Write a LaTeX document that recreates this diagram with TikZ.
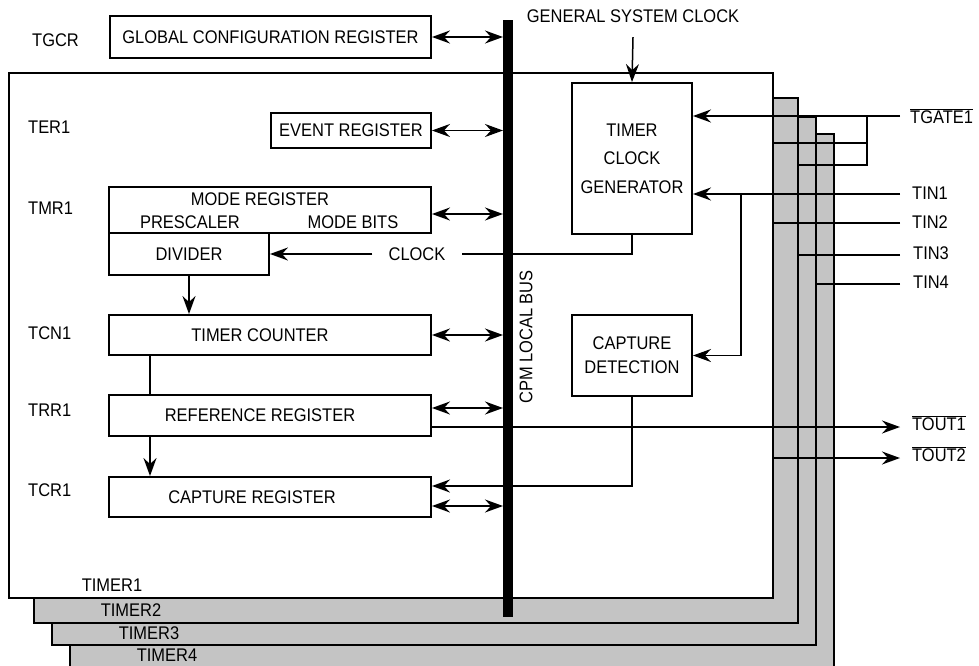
\documentclass[tikz,border=0pt]{standalone}
\usepackage{fontspec}
\setmainfont{Liberation Sans}[FakeStretch=0.9]
\usetikzlibrary{arrows.meta}
\begin{document}
\begin{tikzpicture}[x=1pt,y=-1pt,
  every node/.style={font=\fontsize{18.3}{21}\selectfont, inner sep=0pt},
  box/.style={draw, line width=1.9pt, fill=white},
  frame/.style={draw, line width=1.9pt, fill=black!23, anchor=north west, inner sep=0pt},
  conn/.style={line width=1.5pt},
  >={Stealth[length=18pt,width=13pt,inset=6pt]}]
\useasboundingbox (0,0) rectangle (979,666);
\clip (0,0) rectangle (979,666);
% timer frames
\node[frame, minimum width=764pt, minimum height=567pt] (t4) at (69,133) {};
\node[frame, minimum width=764pt, minimum height=528pt] (t3) at (51,116) {};
\node[frame, minimum width=764pt, minimum height=525pt] (t2) at (33,97) {};
\node[frame, fill=white, minimum width=764pt, minimum height=525pt] (t1) at (8,72) {};
\node (lt1) at (112,585) {TIMER1};
\node (lt2) at (131,610) {TIMER2};
\node (lt3) at (149,633) {TIMER3};
\node (lt4) at (167,655) {TIMER4};
% bus
\node[fill=black, minimum width=10pt, minimum height=597pt, anchor=north west] (bus) at (503,20) {};
\node[rotate=90] (busl) at (526,337) {CPM LOCAL BUS};
% registers
\node[box, minimum width=321pt, minimum height=42pt] (gcr) at (270.5,37) {GLOBAL CONFIGURATION REGISTER};
\node[anchor=west] (lgcr) at (32,40) {TGCR};
\node[box, minimum width=160pt, minimum height=35pt] (evt) at (351,130.5) {EVENT REGISTER};
\node[anchor=west] (lter) at (28,127) {TER1};
\node[box, minimum width=322pt, minimum height=46pt] (mode) at (270,210) {};
\node (modet) at (260,199) {MODE REGISTER};
\node (pre) at (190,222) {PRESCALER};
\node (mbits) at (353,222) {MODE BITS};
\node[anchor=west] (ltmr) at (28,208) {TMR1};
\node[box, minimum width=160pt, minimum height=42pt] (div) at (189,254) {DIVIDER};
\node[box, minimum width=322pt, minimum height=40pt] (tc) at (270,335) {\hspace*{-20pt}TIMER COUNTER};
\node[anchor=west] (ltcn) at (28,333) {TCN1};
\node[box, minimum width=322pt, minimum height=41pt] (ref) at (270,415.5) {\hspace*{-20pt}REFERENCE REGISTER};
\node[anchor=west] (ltrr) at (28,410) {TRR1};
\node[box, minimum width=322pt, minimum height=40pt] (cap) at (270,497) {\hspace*{-36pt}CAPTURE REGISTER};
\node[anchor=west] (ltcr) at (28,490) {TCR1};
% right blocks
\node (gsc) at (633,16) {GENERAL SYSTEM CLOCK};
\node[box, minimum width=120pt, minimum height=151pt, align=center, font=\fontsize{18.3}{28.5}\selectfont] (tcg) at (632,158.5) {TIMER\\CLOCK\\GENERATOR};
\node[box, minimum width=120pt, minimum height=81pt, align=center, font=\fontsize{18.3}{24}\selectfont] (cd) at (632,355.5) {CAPTURE\\DETECTION};
\node[inner xsep=16pt] (clk) at (417,254) {CLOCK};
% pins
\node[anchor=base west] (tgate) at (910,123.5) {$\overline{\mbox{TGATE1}}$};
\node[anchor=base west] (tin1) at (912,199.5) {TIN1};
\node[anchor=base west] (tin2) at (912,228.5) {TIN2};
\node[anchor=base west] (tin3) at (913,259.5) {TIN3};
\node[anchor=base west] (tin4) at (913,288.5) {TIN4};
\node[anchor=base west] (tout1) at (912,430.5) {$\overline{\mbox{TOUT1}}$};
\node[anchor=base west] (tout2) at (912,461.5) {$\overline{\mbox{TOUT2}}$};
\coordinate (pg) at (900,116);
\coordinate (p1) at (900,194);
\coordinate (p2) at (900,223);
\coordinate (p3) at (900,255);
\coordinate (p4) at (900,284);
\coordinate (po1) at (900,427);
\coordinate (po2) at (900,458);
% bus connections
\draw[conn,<->] (gcr.east) -- (bus.west |- gcr.east);
\draw[conn,<->] (evt.east) -- (bus.west |- evt.east);
\coordinate (me) at ([yshift=-4pt]mode.east);
\draw[conn,<->] (me) -- (bus.west |- me);
\draw[conn,<->] (tc.east) -- (bus.west |- tc.east);
\coordinate (re) at ([yshift=7.5pt]ref.east);
\draw[conn,<->] (re) -- (bus.west |- re);
\coordinate (ce1) at ([yshift=11pt]cap.east);
\coordinate (ce2) at ([yshift=-9pt]cap.east);
\draw[conn,<->] (ce2) -- (bus.west |- ce2);
\draw[conn,->] (cd.south) |- (ce1);
% internal flow
\draw[conn] (tcg.south) |- (clk.east);
\draw[conn,->] (clk.west) -- (div.east |- clk.west);
\draw[conn,->] (div.south) -- (tc.north -| div.south);
\coordinate (cx) at (150,0);
\draw[conn] (tc.south -| cx) -- (ref.north -| cx);
\draw[conn,->] (ref.south -| cx) -- (cap.north -| cx);
\draw[conn,->] ([yshift=-14.5pt]gsc.south) -- (tcg.north);
% pins wiring
\draw[conn,->] (pg) -- (tcg.east |- pg);
\coordinate (gb) at (867,116);
\coordinate (g2) at (867,143);
\coordinate (g3) at (867,165);
\draw[conn] (gb) -- (g3) -- (t2.east |- g3);
\draw[conn] (g2) -- (t1.east |- g2);
\draw[conn,->] (p1) -- (tcg.east |- p1);
\coordinate (b1) at (741,194);
\draw[conn,->] (b1) |- (cd.east);
\draw[conn] (p2) -- (t1.east |- p2);
\draw[conn] (p3) -- (t2.east |- p3);
\draw[conn] (p4) -- (t3.east |- p4);
\coordinate (ro) at ([yshift=-11.5pt]ref.east);
\draw[conn,->] (ro) -- (po1);
\draw[conn,->] (t1.east |- po2) -- (po2);
\end{tikzpicture}
\end{document}
